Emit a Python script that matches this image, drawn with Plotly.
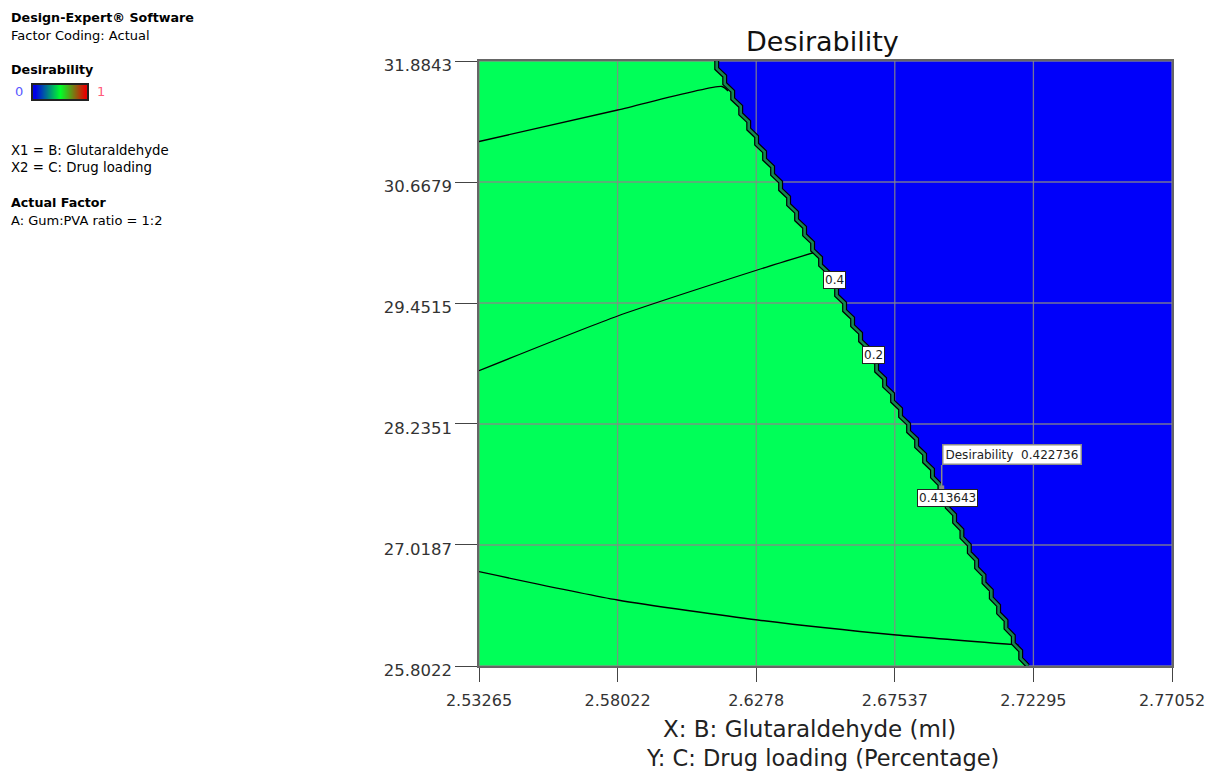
import plotly.graph_objects as go

W, H = 1206, 772

# ---- axis ticks (actual factor units) ----
x_ticks = [2.53265, 2.58022, 2.6278, 2.67537, 2.72295, 2.77052]
x_tick_text = ["2.53265", "2.58022", "2.6278", "2.67537", "2.72295", "2.77052"]
y_ticks = [25.8022, 27.0187, 28.2351, 29.4515, 30.6679, 31.8843]
y_tick_text = ["25.8022", "27.0187", "28.2351", "29.4515", "30.6679", "31.8843"]

# ---- desirability edge (0.4 / 0.2 contours), one vertex per solver row ----
edge_y = [31.8843, 31.7322, 31.5802, 31.4281, 31.2761, 31.1240, 30.9720, 30.8199,
          30.6679, 30.5158, 30.3638, 30.2117, 30.0597, 29.9076, 29.7556, 29.6035,
          29.4515, 29.2994, 29.1474, 28.9953, 28.8433, 28.6912, 28.5392, 28.3871,
          28.2351, 28.0830, 27.9310, 27.7789, 27.6269, 27.4748, 27.3228, 27.1707,
          27.0187, 26.8666, 26.7146, 26.5625, 26.4105, 26.2584, 26.1064, 25.9543,
          25.8022]
edge_x = [2.61424, 2.61699, 2.61973, 2.62248, 2.62523, 2.62794, 2.63068, 2.63343,
          2.63618, 2.63892, 2.64167, 2.64441, 2.64716, 2.64990, 2.65265, 2.65540,
          2.65814, 2.66089, 2.66363, 2.66638, 2.66913, 2.67187, 2.67462, 2.67736,
          2.68011, 2.68286, 2.68560, 2.68831, 2.69085, 2.69336, 2.69590, 2.69841,
          2.70095, 2.70345, 2.70599, 2.70850, 2.71100, 2.71354, 2.71605, 2.71859,
          2.72109]

# ---- interior desirability contours ----
c1_x = [2.53265, 2.58026, 2.61606, 2.61812]
c1_y = [31.0750, 31.3917, 31.6279, 31.5827]
c2_x = [2.53265, 2.58026, 2.62818, 2.64857]
c2_y = [28.7709, 29.3208, 29.7832, 29.9672]
c3_x = [2.53265, 2.58022, 2.62838, 2.67592, 2.71783]
c3_y = [26.7502, 26.4657, 26.2647, 26.1139, 26.0133]

# ---- flagged point ----
flag_x, flag_y = 2.69147, 27.5917
flag_value = 0.422736
flag_contour = "0.413643"

# contour level labels along the edge
level_labels = ["0.4", "0.2"]
level_x = [2.65468, 2.66810]
level_y = [29.6827, 28.9287]

# colour ramp shown in the side legend
legend_levels = [0.0, 0.1, 0.2, 0.3, 0.4, 0.5, 0.6, 0.7, 0.8, 0.9, 1.0]

GREEN = "rgb(0,255,88)"
BLUE = "rgb(0,0,250)"
STRIP = "rgb(20,135,80)"
GRID = "rgba(135,135,135,0.85)"
FONT = "DejaVu Sans"


def staircase(xs, ys):
    """Cell-by-cell contour path: drop half a row, then step across."""
    px, py = [], []
    for i in range(len(xs)):
        px.append(xs[i]); py.append(ys[i])
        if i + 1 < len(xs):
            px.append(xs[i]); py.append((ys[i] + ys[i + 1]) / 2)
    return px, py


sx, sy = staircase(edge_x, edge_y)

fig = go.Figure()

# feasible (green) region, left of the edge
fig.add_trace(go.Scatter(x=sx, y=sy, mode="lines", line=dict(width=0, color=GREEN),
                         fill="tozerox", fillcolor=GREEN, hoverinfo="skip"))

# grid drawn over the filled regions
gx, gy = [], []
for xv in x_ticks:
    gx += [xv, xv, None]; gy += [y_ticks[0], y_ticks[-1], None]
for yv in y_ticks:
    gx += [x_ticks[0], x_ticks[-1], None]; gy += [yv, yv, None]
fig.add_trace(go.Scatter(x=gx, y=gy, mode="lines", line=dict(color=GRID, width=1.3),
                         hoverinfo="skip"))

# interior contours
for cx, cy in [(c1_x, c1_y), (c2_x, c2_y), (c3_x, c3_y)]:
    fig.add_trace(go.Scatter(x=cx, y=cy, mode="lines",
                             line=dict(color="black", width=1.3, shape="spline", smoothing=0.6),
                             hoverinfo="skip"))

# doubled edge contour: black outline with a dark green core
fig.add_trace(go.Scatter(x=sx, y=sy, mode="lines", line=dict(color="black", width=5),
                         hoverinfo="skip"))
fig.add_trace(go.Scatter(x=sx, y=sy, mode="lines", line=dict(color=STRIP, width=2.6),
                         hoverinfo="skip"))

# flagged design point
fig.add_trace(go.Scatter(x=[flag_x], y=[flag_y], mode="markers",
                         marker=dict(symbol="square", size=5, color="#8a8a8a"),
                         hoverinfo="skip"))

# side legend colour ramp
fig.add_trace(go.Heatmap(z=[legend_levels], x=list(range(len(legend_levels))), y=[0],
                         colorscale=[[0, "rgb(0,0,230)"], [0.5, "rgb(0,255,40)"], [1, "rgb(230,0,0)"]],
                         zmin=0, zmax=1, zsmooth="best", showscale=False,
                         xaxis="x2", yaxis="y2", hoverinfo="skip"))

annotations = []

# contour level tags
for t, lx, ly in zip(level_labels, level_x, level_y):
    annotations.append(dict(x=lx, y=ly, text=t, showarrow=False,
                            font=dict(family=FONT, size=12, color="#222"),
                            bgcolor="white", bordercolor="#222", borderwidth=1, borderpad=1))

annotations.append(dict(x=flag_x, y=flag_y, text=flag_contour, showarrow=False,
                        xanchor="center", yanchor="top", xshift=6, yshift=-1,
                        font=dict(family=FONT, size=12, color="#222"),
                        bgcolor="white", bordercolor="#222", borderwidth=1, borderpad=1))
annotations.append(dict(x=flag_x, y=flag_y, text=f"Desirability  {flag_value:.6f}",
                        showarrow=True, arrowhead=0, arrowwidth=1.5, arrowcolor="#8a8a8a",
                        ax=0, ay=-23, xanchor="left", yanchor="bottom",
                        font=dict(family=FONT, size=12, color="#222"),
                        bgcolor="white", bordercolor="#8a8a8a", borderwidth=1.5, borderpad=2))

# title and axis captions
annotations.append(dict(xref="paper", yref="paper", x=823 / W, y=1 - 42 / H, text="Desirability",
                        showarrow=False, xanchor="center", yanchor="middle",
                        font=dict(family=FONT, size=27, color="#111")))
annotations.append(dict(xref="paper", yref="paper", x=809 / W, y=1 - 729 / H,
                        text="X: B: Glutaraldehyde (ml)", showarrow=False,
                        xanchor="center", yanchor="middle", font=dict(family=FONT, size=23, color="#222")))
annotations.append(dict(xref="paper", yref="paper", x=823 / W, y=1 - 758 / H,
                        text="Y: C: Drug loading (Percentage)", showarrow=False,
                        xanchor="center", yanchor="middle", font=dict(family=FONT, size=22.5, color="#222")))

# side information panel
side = [
    ("<b>Design-Expert® Software</b>", 18, 12.7),
    ("Factor Coding: Actual", 35, 13),
    ("<b>Desirability</b>", 70, 12.7),
    ("X1 = B: Glutaraldehyde", 150, 13.3),
    ("X2 = C: Drug loading", 167, 13.3),
    ("<b>Actual Factor</b>", 202, 12.7),
    ("A: Gum:PVA ratio = 1:2", 220, 13),
]
for txt, py, fs in side:
    annotations.append(dict(xref="paper", yref="paper", x=9 / W, y=1 - py / H, text=txt,
                            showarrow=False, xanchor="left", yanchor="middle",
                            font=dict(family=FONT, size=fs, color="#000")))
annotations.append(dict(xref="paper", yref="paper", x=19 / W, y=1 - 92 / H, text="0",
                        showarrow=False, xanchor="center", yanchor="middle",
                        font=dict(family=FONT, size=13, color="#5a5aff")))
annotations.append(dict(xref="paper", yref="paper", x=101 / W, y=1 - 92 / H, text="1",
                        showarrow=False, xanchor="center", yanchor="middle",
                        font=dict(family=FONT, size=13, color="#ff5a7a")))

fig.update_layout(
    template="none",
    width=W, height=H,
    margin=dict(l=0, r=0, t=0, b=0),
    paper_bgcolor="white",
    plot_bgcolor=BLUE,
    showlegend=False,
    annotations=annotations,
    xaxis=dict(domain=[479 / W, 1172 / W], range=[x_ticks[0], x_ticks[-1]],
               tickvals=x_ticks, ticktext=x_tick_text, ticks="outside", ticklen=14,
               tickcolor="#444", tickwidth=1.3, showgrid=False, zeroline=False,
               showline=True, linecolor="#666", linewidth=1.5, mirror=True,
               automargin=False, ticklabelstandoff=5,
               tickfont=dict(family=FONT, size=16, color="#333")),
    yaxis=dict(domain=[1 - 666 / H, 1 - 61 / H], range=[y_ticks[0], y_ticks[-1]],
               tickvals=y_ticks, ticktext=y_tick_text, ticks="outside", ticklen=22,
               tickcolor="#444", tickwidth=1.3, showgrid=False, zeroline=False,
               showline=True, linecolor="#666", linewidth=1.5, mirror=True,
               automargin=False, ticklabelstandoff=0, ticklabelshift=4,
               tickfont=dict(family=FONT, size=16.5, color="#333")),
    xaxis2=dict(domain=[33 / W, 87 / W], anchor="y2", range=[-0.5, len(legend_levels) - 0.5],
                showticklabels=False, ticks="", showgrid=False, zeroline=False,
                showline=True, linecolor="#222", linewidth=1.5, mirror=True, automargin=False),
    yaxis2=dict(domain=[1 - 99 / H, 1 - 85 / H], anchor="x2", range=[-0.5, 0.5],
                showticklabels=False, ticks="", showgrid=False, zeroline=False,
                showline=True, linecolor="#222", linewidth=1.5, mirror=True, automargin=False),
)

fig.write_html("out.html", config={"displayModeBar": False})
